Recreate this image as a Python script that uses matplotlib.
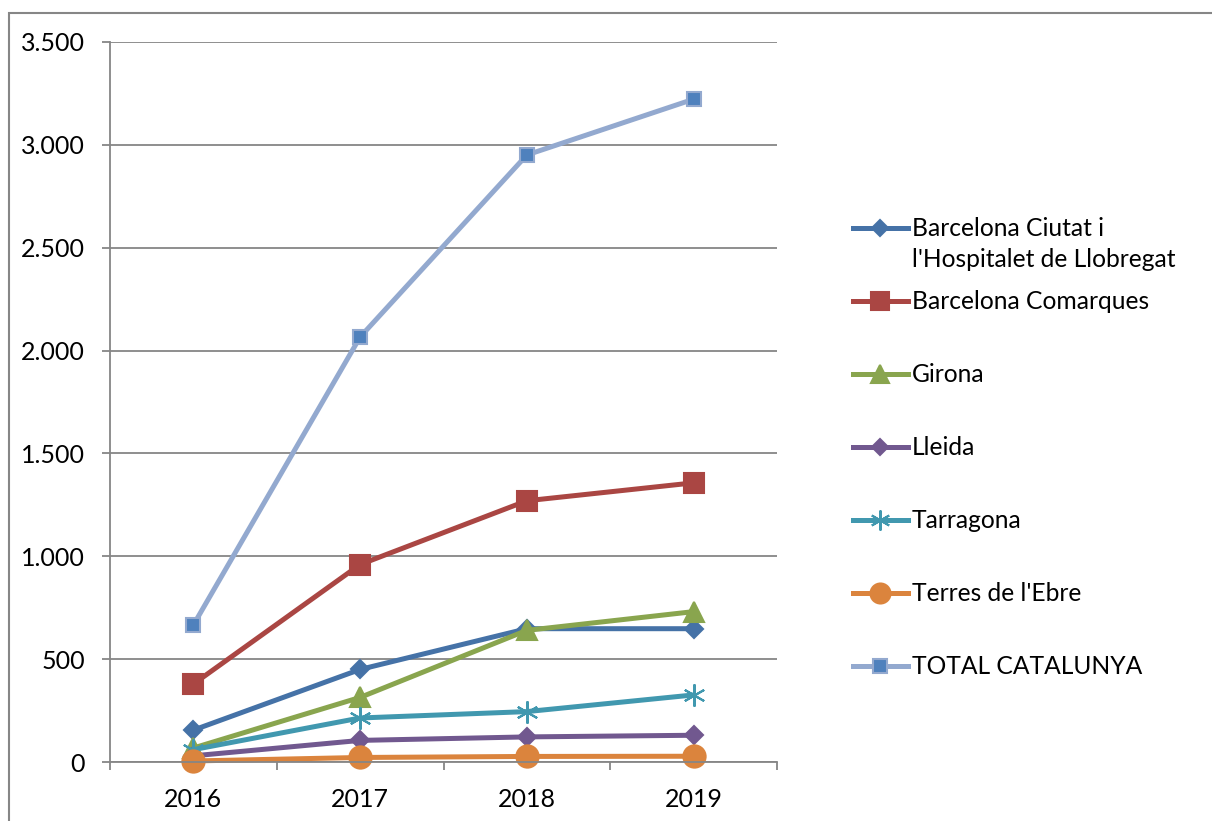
import matplotlib
matplotlib.use("Agg")
from matplotlib import pyplot as plt
from matplotlib.lines import Line2D
from matplotlib.patches import Rectangle
from matplotlib.ticker import FuncFormatter

plt.rcParams["font.family"] = ["Lato", "DejaVu Sans"]

years = ["2016", "2017", "2018", "2019"]
series_names = [
    "Barcelona Ciutat i\nl'Hospitalet de Llobregat",
    "Barcelona Comarques",
    "Girona",
    "Lleida",
    "Tarragona",
    "Terres de l'Ebre",
    "TOTAL CATALUNYA",
]
bcn_ciutat = [155, 450, 648, 648]
bcn_comarques = [379, 960, 1270, 1357]
girona = [68, 314, 640, 731]
lleida = [30, 105, 122, 130]
tarragona = [60, 214, 245, 326]
terres_ebre = [5, 22, 27, 28]
total = [666, 2066, 2951, 3222]

values = [bcn_ciutat, bcn_comarques, girona, lleida, tarragona, terres_ebre, total]

# line colour, marker, marker size, marker face, marker edge
styles = [
    ("#4572A7", "D", 9.5, "#4572A7", "#4572A7"),
    ("#AA4643", "s", 14, "#AA4643", "#AA4643"),
    ("#89A54E", "^", 14, "#89A54E", "#89A54E"),
    ("#71588F", "D", 9.5, "#71588F", "#71588F"),
    ("#4198AF", (6, 2, 0), 16, "#4198AF", "#4198AF"),
    ("#DB843D", "o", 16, "#DB843D", "#DB843D"),
    ("#93A9CF", "s", 10.5, "#4F81BD", "#93A9CF"),
]

fig = plt.figure(figsize=(12.12, 8.21), dpi=100)
W, H = 1212, 821

# outer chart frame
fig.patches.append(Rectangle((8.5 / W, -0.1), 1.2, 1 - 13.5 / H + 0.1,
                             transform=fig.transFigure, fill=False,
                             edgecolor="#868686", linewidth=1.5))

ax = fig.add_axes([110 / W, 1 - 762 / H, (777 - 110) / W, (762 - 42) / H])
x = range(len(years))
for name, vals, (col, mk, ms, mfc, mec) in zip(series_names, values, styles):
    ax.plot(x, vals, color=col, linewidth=3.6, marker=mk, markersize=ms,
            markerfacecolor=mfc, markeredgecolor=mec, markeredgewidth=1.5,
            label=name, clip_on=False)

ax.set_xlim(-0.5, len(years) - 0.5)
ax.set_ylim(0, 3500)
ax.set_yticks(range(0, 3501, 500))
ax.yaxis.set_major_formatter(FuncFormatter(lambda v, p: f"{int(v):,}".replace(",", ".")))
ax.set_xticks(list(x))
ax.set_xticklabels(years)
ax.set_xticks([i - 0.5 for i in range(len(years) + 1)], minor=True)
ax.tick_params(axis="x", which="major", length=0, pad=19, labelsize=18)
ax.tick_params(axis="x", which="minor", length=6, width=1.3, color="#868686", direction="out")
ax.tick_params(axis="y", length=6, width=1.3, color="#868686", pad=12, labelsize=18)
ax.grid(True, axis="y", color="#868686", linewidth=1.3)
ax.set_axisbelow(True)
for s in ["top", "right"]:
    ax.spines[s].set_visible(False)
for s in ["left", "bottom"]:
    ax.spines[s].set_color("#868686")
    ax.spines[s].set_linewidth(1.3)

# legend, drawn in its own pixel-scaled axes
lax = fig.add_axes([0, 0, 1, 1])
lax.set_xlim(0, W)
lax.set_ylim(H, 0)
lax.axis("off")
leg_y = [228, 301, 374, 447, 520, 593, 666]
for name, ly, (col, mk, ms, mfc, mec) in zip(series_names, leg_y, styles):
    lax.add_line(Line2D([853, 908], [ly, ly], color=col, linewidth=3.6))
    lax.add_line(Line2D([880], [ly], marker=mk, markersize=ms * 0.9,
                        markerfacecolor=mfc, markeredgecolor=mec,
                        markeredgewidth=1.5, linestyle="none"))
    lax.text(912, ly - 11, name, fontsize=17.7, va="top", ha="left",
             linespacing=1.42)

fig.savefig("out.png", dpi=100)
